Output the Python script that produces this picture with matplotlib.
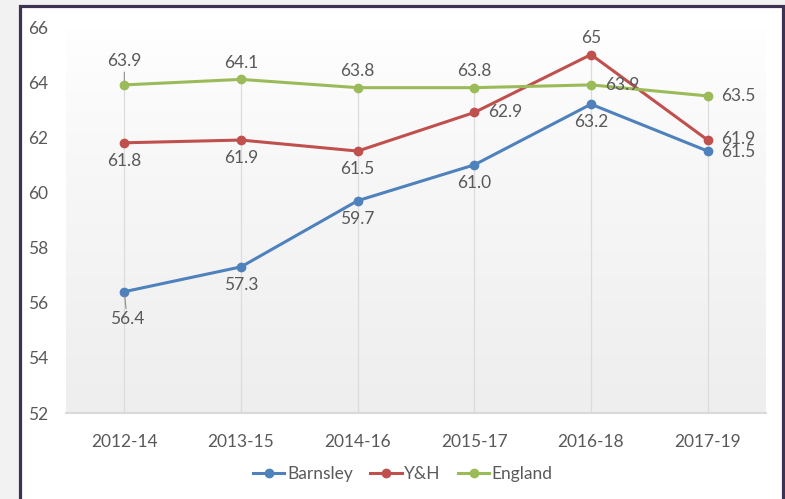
import numpy as np
import matplotlib.pyplot as plt
from matplotlib.colors import LinearSegmentedColormap
from matplotlib.patches import Rectangle

plt.rcParams['font.family'] = ['Lato', 'DejaVu Sans']

periods = ["2012-14", "2013-15", "2014-16", "2015-17", "2016-18", "2017-19"]
barnsley = [56.4, 57.3, 59.7, 61.0, 63.2, 61.5]
yh = [61.8, 61.9, 61.5, 62.9, 65.0, 61.9]
england = [63.9, 64.1, 63.8, 63.8, 63.9, 63.5]
yh_labels = ["61.8", "61.9", "61.5", "62.9", "65", "61.9"]

# where each data label sits relative to its point
barnsley_pos = ["lead_below", "below", "below", "below", "below", "right_low"]
yh_pos = ["below", "below", "below", "right", "above", "right_high"]
england_pos = ["lead_above", "above", "above", "above", "right", "right"]

text_col = "#595959"
blue, red, green = "#4f81bd", "#c0504d", "#9bbb59"
fs = 12.5

W, H = 785, 499
fig = plt.figure(figsize=(W / 100, H / 100), dpi=100)
fig.patch.set_facecolor("#f2f2f2")

# outer frame
frame = Rectangle((19.5 / W, -0.05), 763 / W, 1.05 - 6 / H, transform=fig.transFigure,
                  facecolor="white", edgecolor="#3f3151", lw=2.3, zorder=-10)
fig.patches.append(frame)

ax = fig.add_axes([66 / W, (H - 413) / H, 700 / W, 386 / H])
ax.set_facecolor("none")
x = np.arange(len(periods))

# plot area gradient (white top -> light grey bottom)
grad = np.linspace(0, 1, 256).reshape(-1, 1) ** 0.8
cmap = LinearSegmentedColormap.from_list("g", ["#ffffff", "#eeeeee"])
ax.imshow(grad, extent=(-0.5, len(periods) - 0.5, 52, 66), aspect="auto",
          cmap=cmap, vmin=0, vmax=1, zorder=0, origin="upper")
ax.set_xlim(-0.5, len(periods) - 0.5)
ax.set_ylim(52, 66)

# drop lines from the highest point of each category
tops = np.maximum(np.maximum(barnsley, yh), england)
ax.vlines(x, 52, tops, color="#dcdcdc", lw=0.9, zorder=1)

for vals, col, name in [(barnsley, blue, "Barnsley"), (yh, red, "Y&H"), (england, green, "England")]:
    ax.plot(x, vals, color=col, lw=2.2, marker="o", ms=6, label=name, zorder=3)

offsets = {"above": (0, 12), "below": (0, -13), "right": (10, 0),
           "right_high": (10, 1), "right_low": (10, -1),
           "lead_above": (0, 17), "lead_below": (2, -20)}


def put_labels(vals, pos, texts=None):
    for i, v in enumerate(vals):
        t = texts[i] if texts else f"{v:.1f}"
        p = pos[i]
        ha = "left" if p.startswith("right") else "center"
        arrow = None
        if p.startswith("lead"):
            arrow = dict(arrowstyle="-", color="#8c8c8c", lw=0.8, shrinkA=0, shrinkB=3)
        ax.annotate(t, (x[i], v), xytext=offsets[p], textcoords="offset points",
                    ha=ha, va="center", fontsize=fs, color=text_col, zorder=4,
                    arrowprops=arrow)


put_labels(barnsley, barnsley_pos)
put_labels(yh, yh_pos, yh_labels)
put_labels(england, england_pos)

ax.set_xticks(x)
ax.set_xticklabels(periods)
ax.set_yticks(np.arange(52, 67, 2))
ax.tick_params(axis="both", length=0, labelsize=fs, colors=text_col)
ax.tick_params(axis="x", pad=15)
ax.tick_params(axis="y", pad=13)
for s in ["left", "right", "top"]:
    ax.spines[s].set_visible(False)
ax.spines["bottom"].set_color("#d9d9d9")
ax.spines["bottom"].set_linewidth(1.5)

ax.legend(loc="center", bbox_to_anchor=(403 / W, (H - 474) / H), bbox_transform=fig.transFigure,
          ncol=3, frameon=False, fontsize=fs, labelcolor=text_col, handlelength=1.8,
          handletextpad=0.15, columnspacing=1.0)

fig.savefig("out.png", dpi=100, facecolor=fig.get_facecolor())
